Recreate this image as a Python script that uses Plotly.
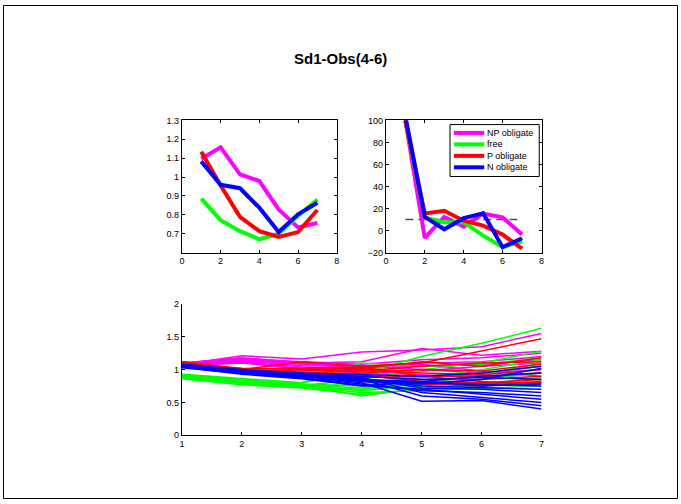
# Sd1-Obs(4-6) kuva, kolme osakuvaa (MATLAB tyyli)
import plotly.graph_objects as go

x = [1, 2, 3, 4, 5, 6, 7]

# ylävasen: keskiarvot ryhmittäin
np_mean = [1.097, 1.157, 1.014, 0.979, 0.829, 0.734, 0.757]
free_mean = [0.886, 0.772, 0.714, 0.671, 0.700, 0.795, 0.881]
p_mean = [1.134, 0.955, 0.790, 0.714, 0.683, 0.709, 0.826]
n_mean = [1.083, 0.959, 0.941, 0.838, 0.709, 0.803, 0.864]

# yläoikea: prosentit
np_pct = [100, -6.6, 12.5, 3.6, 15.5, 12.0, -3.6]
free_pct = [100, 12.0, 7.5, 7.5, -4.5, -15.0, -9.6]
p_pct = [100, 15.5, 18.0, 9.0, 4.5, -3.6, -16.4]
n_pct = [104, 12.5, 1.2, 11.3, 15.8, -15.0, -6.9]
ref_x = [1, 7]
ref_y = [10, 10]

# alakuva: yksittäiset käyrät
np_lines = [
    [1.08, 1.21, 1.16, 1.27, 1.30, 1.35, 1.55],
    [1.06, 1.15, 1.10, 1.12, 1.32, 1.22, 1.28],
    [1.10, 1.17, 1.12, 1.08, 1.15, 1.18, 1.25],
    [1.07, 1.13, 1.06, 1.05, 1.10, 1.12, 1.20],
    [1.09, 1.16, 1.08, 1.02, 1.05, 1.08, 1.15],
    [1.05, 1.12, 1.04, 1.00, 0.98, 1.05, 1.10],
    [1.08, 1.14, 1.09, 1.06, 1.00, 0.95, 1.00],
    [1.06, 1.10, 1.02, 0.98, 0.92, 0.88, 0.95],
    [1.10, 1.18, 1.10, 1.04, 1.08, 0.98, 0.90],
    [1.07, 1.11, 1.00, 0.95, 0.90, 0.92, 0.85],
]
free_lines = [
    [0.90, 0.82, 0.80, 0.95, 1.20, 1.40, 1.63],
    [0.88, 0.80, 0.76, 0.85, 1.00, 1.10, 1.28],
    [0.92, 0.85, 0.78, 0.75, 0.88, 1.00, 1.15],
    [0.87, 0.78, 0.74, 0.70, 0.78, 0.92, 1.10],
    [0.89, 0.82, 0.75, 0.68, 0.75, 0.85, 0.95],
    [0.86, 0.77, 0.72, 0.62, 0.70, 0.78, 0.88],
    [0.91, 0.84, 0.77, 0.72, 0.80, 0.80, 0.82],
    [0.88, 0.79, 0.73, 0.65, 0.68, 0.72, 0.75],
    [0.90, 0.81, 0.76, 0.60, 0.72, 0.75, 0.80],
    [0.87, 0.80, 0.74, 0.78, 0.90, 0.95, 1.05],
    [0.93, 0.86, 0.80, 1.10, 1.05, 1.08, 1.18],
]
p_lines = [
    [1.12, 1.00, 1.12, 1.05, 1.10, 1.28, 1.47],
    [1.10, 1.02, 1.00, 1.02, 1.12, 1.05, 1.18],
    [1.11, 0.98, 0.95, 0.98, 1.05, 1.10, 1.12],
    [1.08, 0.96, 0.92, 0.95, 1.00, 0.98, 1.08],
    [1.12, 1.00, 0.98, 1.00, 0.95, 0.92, 1.00],
    [1.09, 0.95, 0.90, 0.88, 0.90, 0.90, 0.95],
    [1.10, 0.97, 0.93, 0.90, 0.85, 0.85, 0.90],
    [1.11, 0.99, 0.96, 0.92, 0.82, 0.80, 0.85],
    [1.08, 0.94, 0.88, 0.85, 0.80, 0.78, 0.80],
    [1.12, 1.01, 1.02, 1.04, 0.90, 0.82, 0.78],
    [1.10, 0.98, 0.94, 0.82, 0.78, 0.75, 0.82],
]
n_lines = [
    [1.06, 0.98, 0.92, 0.85, 0.60, 0.55, 0.45],
    [1.05, 0.96, 0.90, 0.80, 0.52, 0.53, 0.40],
    [1.08, 0.99, 0.93, 0.88, 0.65, 0.58, 0.50],
    [1.04, 0.95, 0.88, 0.78, 0.68, 0.65, 0.60],
    [1.07, 0.97, 0.91, 0.86, 0.75, 0.72, 0.70],
    [1.05, 0.96, 0.90, 0.84, 0.80, 0.78, 0.75],
    [1.06, 0.98, 0.93, 0.90, 0.85, 0.88, 0.85],
    [1.03, 0.94, 0.87, 0.75, 0.82, 0.90, 0.95],
    [1.08, 1.00, 0.95, 0.92, 0.90, 0.95, 1.05],
    [1.05, 0.95, 0.89, 0.82, 0.78, 0.85, 1.02],
    [1.07, 0.97, 0.92, 0.87, 0.72, 0.70, 0.65],
    [1.04, 0.93, 0.86, 0.76, 0.70, 0.62, 0.55],
    [1.06, 0.97, 0.91, 0.85, 0.82, 0.75, 0.78],
]

names = ['NP obligate', 'free', 'P obligate', 'N obligate']
colors = ['#ff00ff', '#00ff00', '#ff0000', '#0000ff']

fig = go.Figure()

# ylävasen
for c, yy in zip(colors, [np_mean, free_mean, p_mean, n_mean]):
    fig.add_trace(go.Scatter(x=x, y=yy, mode='lines', line=dict(color=c, width=4),
                             xaxis='x', yaxis='y', showlegend=False))

# yläoikea
fig.add_trace(go.Scatter(x=ref_x, y=ref_y, mode='lines', xaxis='x2', yaxis='y2',
                         line=dict(color='#505050', width=1.5, dash='8px,5px'), showlegend=False))
for c, yy in zip(colors, [np_pct, free_pct, p_pct, n_pct]):
    fig.add_trace(go.Scatter(x=x, y=yy, mode='lines', line=dict(color=c, width=4),
                             xaxis='x2', yaxis='y2', showlegend=False))

# alakuva
for c, group in zip(colors, [np_lines, free_lines, p_lines, n_lines]):
    for yy in group:
        fig.add_trace(go.Scatter(x=x, y=yy, mode='lines', line=dict(color=c, width=1.5),
                                 xaxis='x3', yaxis='y3', showlegend=False))

W, H = 681, 504
ax = dict(showline=True, linecolor='black', linewidth=1, ticks='inside', ticklen=3,
          tickcolor='black', showgrid=False, zeroline=False,
          tickfont=dict(size=9, color='black'))

# MATLAB-tyylinen legenda käsin (plotlyn legenda on liian väljä)
shapes = [dict(type='rect', xref='paper', yref='paper', x0=0.5 / W, y0=0.5 / H,
               x1=1 - 0.5 / W, y1=1 - 0.5 / H, line=dict(color='black', width=1)),
          dict(type='rect', xref='paper', yref='paper', x0=451 / W, x1=541 / W,
               y0=1 - 175 / H, y1=1 - 122 / H, fillcolor='white',
               line=dict(color='black', width=1), layer='above')]
annotations = [dict(text='<b>Sd1-Obs(4-6)</b>', x=341 / W, y=1 - 55 / H,
                    xref='paper', yref='paper', showarrow=False, yanchor='middle',
                    font=dict(size=15, color='black'))]
for i, (nm, c) in enumerate(zip(names, colors)):
    yy = 1 - (130.5 + 11.7 * i) / H
    shapes.append(dict(type='line', xref='paper', yref='paper', x0=455 / W, x1=485.5 / W,
                       y0=yy, y1=yy, line=dict(color=c, width=4), layer='above'))
    annotations.append(dict(text=nm, x=486 / W, y=yy, xref='paper', yref='paper',
                            xanchor='left', yanchor='middle', showarrow=False,
                            font=dict(size=9, color='black')))

fig.update_layout(
    width=W, height=H,
    margin=dict(l=0, r=0, t=0, b=0),
    paper_bgcolor='white', plot_bgcolor='white',
    font=dict(family='Liberation Sans, Arial', color='black'),
    showlegend=False,
    xaxis=dict(ax, domain=[180.5 / W, 336.7 / W], range=[0, 8], tickvals=[0, 2, 4, 6, 8],
               mirror='ticks', anchor='y'),
    yaxis=dict(ax, domain=[1 - 252.7 / H, 1 - 117.7 / H], range=[0.6, 1.3],
               tickvals=[0.7, 0.8, 0.9, 1.0, 1.1, 1.2, 1.3],
               ticktext=['0.7', '0.8', '0.9', '1', '1.1', '1.2', '1.3'],
               mirror='ticks', anchor='x'),
    xaxis2=dict(ax, domain=[386.3 / W, 543.3 / W], range=[0, 8], tickvals=[0, 2, 4, 6, 8],
                mirror='ticks', anchor='y2'),
    yaxis2=dict(ax, domain=[1 - 252.7 / H, 1 - 117.7 / H], range=[-20, 100],
                tickvals=[-20, 0, 20, 40, 60, 80, 100], mirror='ticks', anchor='x2'),
    xaxis3=dict(ax, domain=[180.5 / W, 543.3 / W], range=[1, 7], tickvals=x, anchor='y3'),
    yaxis3=dict(ax, domain=[1 - 439 / H, 1 - 305 / H], range=[0, 2],
                tickvals=[0, 0.5, 1, 1.5, 2], ticktext=['0', '0.5', '1', '1.5', '2'],
                anchor='x3'),
    shapes=shapes,
    annotations=annotations,
)

# sivun marginaalit pois, ettei kuva siirry
css = ("document.documentElement.style.overflow='hidden';"
       "document.body.style.margin='0';document.body.style.overflow='hidden';"
       "document.body.style.lineHeight='0';"
       "document.querySelectorAll('.svg-container').forEach(function(e){e.style.display='block';});")
fig.write_html("out.html", config={'displayModeBar': False}, post_script=css)
